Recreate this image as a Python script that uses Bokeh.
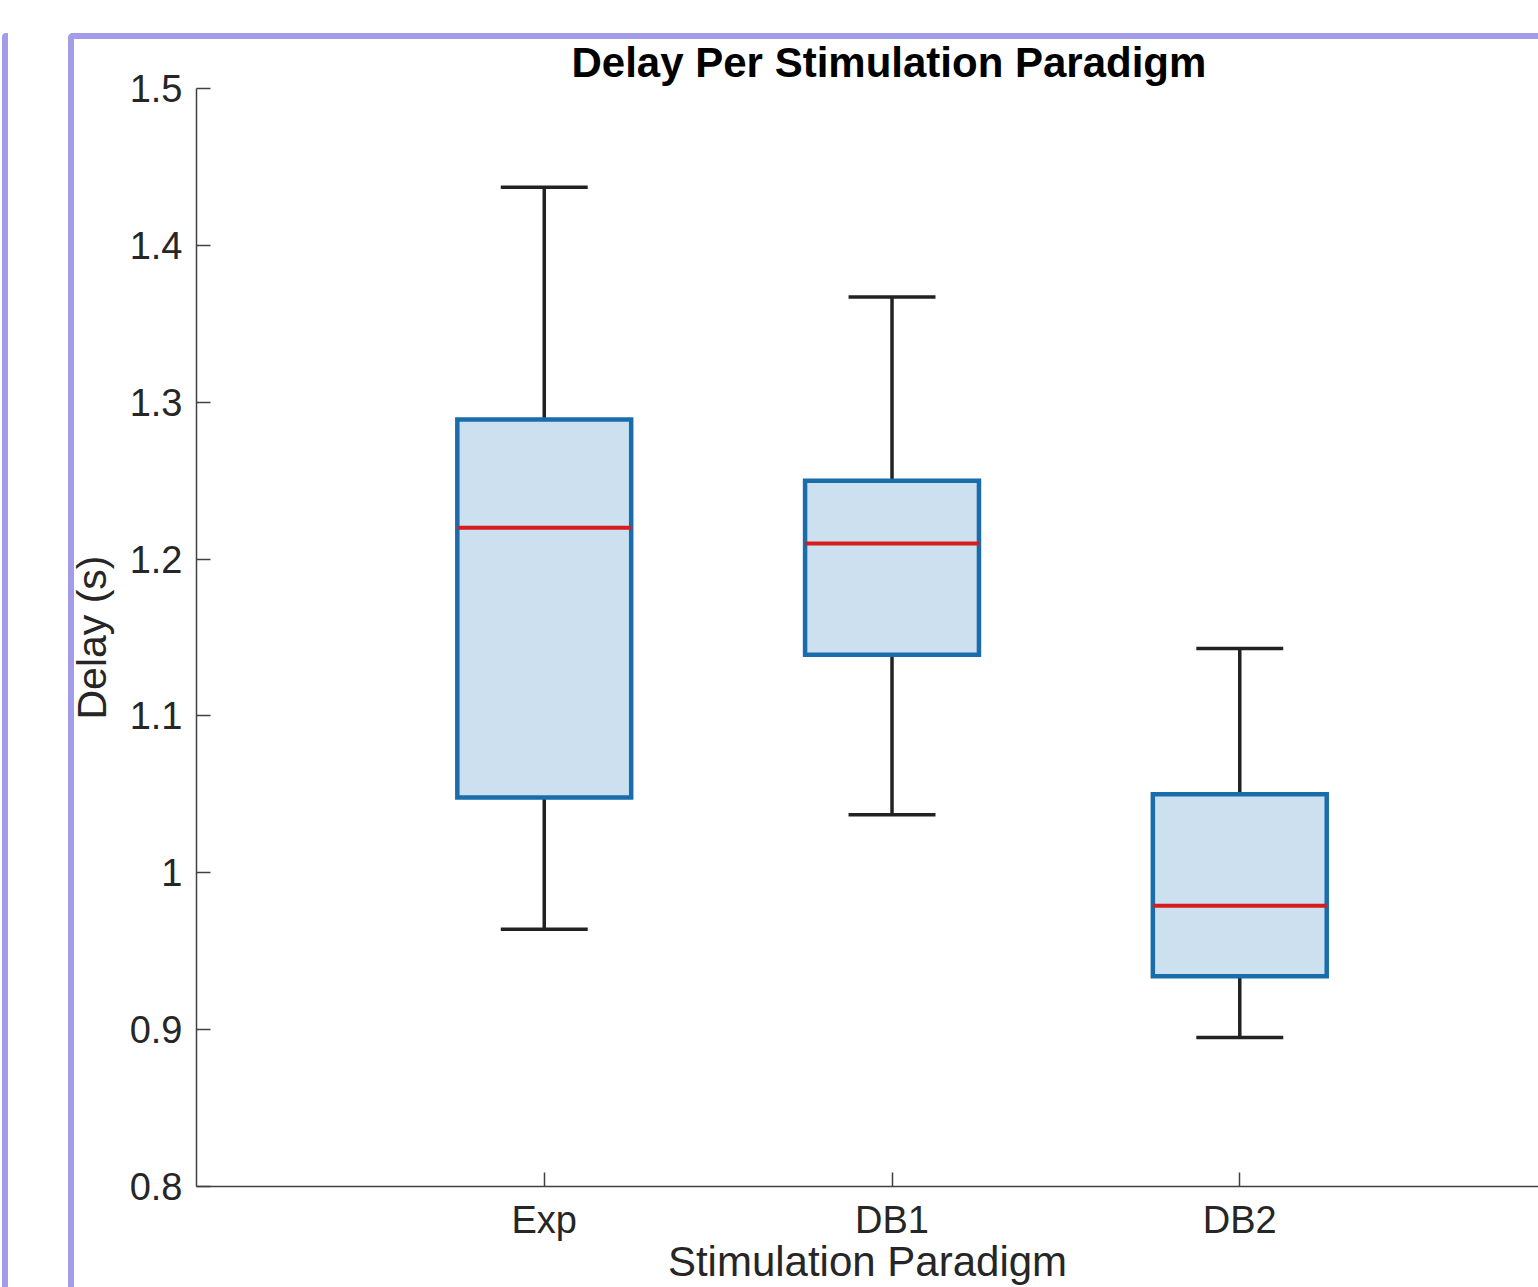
from bokeh.plotting import figure
from bokeh.models import Range1d, FixedTicker, ColumnDataSource, InlineStyleSheet
from bokeh.embed import file_html
from bokeh.resources import INLINE

# ---- data ----
categories = ["Exp", "DB1", "DB2"]
lower_whisker = [0.964, 1.037, 0.895]
q1 = [1.048, 1.139, 0.934]
median = [1.220, 1.210, 0.979]
q3 = [1.289, 1.250, 1.050]
upper_whisker = [1.437, 1.367, 1.143]

y_ticks = [0.8, 0.9, 1.0, 1.1, 1.2, 1.3, 1.4, 1.5]
y_tick_labels = ["0.8", "0.9", "1", "1.1", "1.2", "1.3", "1.4", "1.5"]

title_text = "Delay Per Stimulation Paradigm"
x_title = "Stimulation Paradigm"
y_title = "Delay (s)"

# ---- derived ----
pos = list(range(1, len(categories) + 1))
box_half = 0.25
cap_half = 0.125

src = ColumnDataSource(dict(
    x=pos,
    lw=lower_whisker, q1=q1, med=median, q3=q3, uw=upper_whisker,
    bl=[x - box_half for x in pos], br=[x + box_half for x in pos],
    cl=[x - cap_half for x in pos], cr=[x + cap_half for x in pos],
))

FONT = "Liberation Sans"
TXT = "#262626"
AX = "#404040"

# lavender window frames of the screenshot (decoration, drawn by CSS)
frame_css = InlineStyleSheet(css="""
:host { position: relative; }
:host::before {
  content: ""; position: absolute; left: 2px; top: 33px; width: 0px; bottom: 0px;
  border-left: 6px solid #a39ce9; border-top-left-radius: 4px;
  pointer-events: none; z-index: 10;
}
:host::after {
  content: ""; position: absolute; left: 68px; top: 33px; right: 0px; bottom: 0px;
  border-left: 6px solid #a39ce9; border-top: 6px solid #a39ce9;
  border-top-left-radius: 5px;
  pointer-events: none; z-index: 10;
}
""")

p = figure(width=1538, height=1287, output_backend="svg", toolbar_location=None,
           x_range=Range1d(0, 3.859), y_range=Range1d(0.8, 1.5),
           min_border_left=196, min_border_top=88, min_border_right=0,
           min_border_bottom=100, stylesheets=[frame_css])
p.outline_line_color = None
p.xgrid.visible = False
p.ygrid.visible = False
p.background_fill_color = "white"
p.border_fill_color = "white"

# title
p.title.text = title_text
p.title.align = "left"
p.title.offset = 375
p.title.text_font = FONT
p.title.text_font_style = "bold"
p.title.text_font_size = "42px"
p.title.text_color = "black"
p.title.standoff = 6

# whiskers
WK = dict(source=src, line_color="#222222", line_width=3.5)
p.segment(x0="x", y0="q3", x1="x", y1="uw", **WK)
p.segment(x0="x", y0="lw", x1="x", y1="q1", **WK)
p.segment(x0="cl", y0="uw", x1="cr", y1="uw", **WK)
p.segment(x0="cl", y0="lw", x1="cr", y1="lw", **WK)
# boxes
p.quad(left="bl", right="br", bottom="q1", top="q3", source=src,
       fill_color="#cce0f0", line_color="#1a6dab", line_width=4.5, line_join="miter")
# medians
p.segment(x0="bl", y0="med", x1="br", y1="med", source=src, line_color="#d61c1f", line_width=4)

# axes
for ax in (p.xaxis[0], p.yaxis[0]):
    ax.axis_line_color = AX
    ax.axis_line_width = 1.5
    ax.major_tick_line_color = AX
    ax.major_tick_line_width = 1.5
    ax.major_tick_in = 14
    ax.major_tick_out = 0
    ax.minor_tick_line_color = None
    ax.major_label_text_font = FONT
    ax.major_label_text_font_size = "38px"
    ax.major_label_text_color = TXT
    ax.axis_label_text_font = FONT
    ax.axis_label_text_font_style = "normal"
    ax.axis_label_text_color = TXT

p.xaxis.ticker = FixedTicker(ticks=pos)
p.xaxis.major_label_overrides = {x: c for x, c in zip(pos, categories)}
p.xaxis.axis_label = x_title
p.xaxis.axis_label_text_font_size = "42px"
p.xaxis.major_label_standoff = 12
p.xaxis.axis_label_standoff = -6

p.yaxis.ticker = FixedTicker(ticks=y_ticks)
p.yaxis.major_label_overrides = {t: l for t, l in zip(y_ticks, y_tick_labels)}
p.yaxis.axis_label = y_title
p.yaxis.axis_label_text_font_size = "41px"
p.yaxis.major_label_standoff = 14
p.yaxis.axis_label_standoff = 12

open("out.html", "w").write(file_html(p, INLINE))
